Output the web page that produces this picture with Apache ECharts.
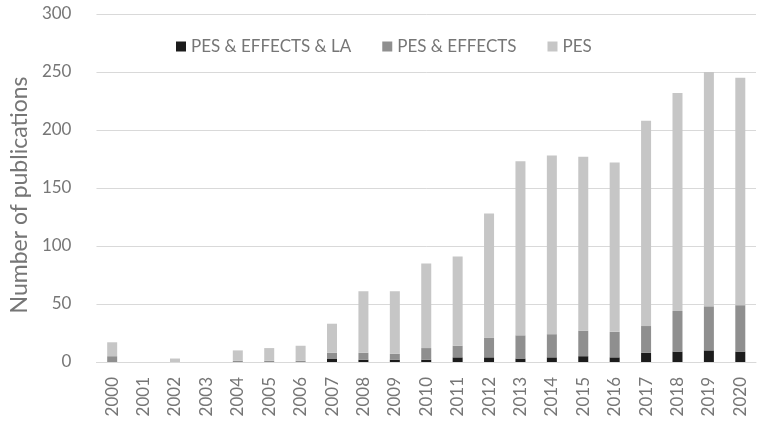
<!DOCTYPE html>
<html>
<head>
<meta charset="utf-8">
<script src="https://cdn.jsdelivr.net/npm/echarts@6/dist/echarts.min.js"></script>
<style>html,body{margin:0;padding:0;background:#fff}#c{width:762px;height:433px}</style>
</head>
<body>
<div id="c"></div>
<script>
var years = ['2000','2001','2002','2003','2004','2005','2006','2007','2008','2009','2010','2011','2012','2013','2014','2015','2016','2017','2018','2019','2020'];
var pesEffectsLA = [0,0,0,0,0,0,0,3,2,2,2,4,4,3,4,5,4,8,9,10,9];
var pesEffects   = [5,0,0,0,1,1,1,5,6,5,10,10,17,20,20,22,22,23,35,38,40];
var pesOnly      = [12,0,3,0,9,11,13,25,53,54,73,77,107,150,154,150,146,177,188,202,196];
var yTicks = [0,50,100,150,200,250,300];

var FONT = 'Lato';
var TXT = '#767676';
var chart = echarts.init(document.getElementById('c'), null, {renderer:'canvas'});
function mk(name, data, color){
  return {name:name, type:'bar', stack:'t', data:data, barWidth:10,
    itemStyle:{color:color}, emphasis:{disabled:true}, silent:true};
}
chart.setOption({
  animation:false,
  grid:{left:83, right:6, top:14, bottom:71, containLabel:false},
  legend:{
    top:33, left:171, itemWidth:10, itemHeight:10, itemGap:31,
    icon:'rect',
    textStyle:{fontFamily:FONT, fontSize:17, color:TXT, padding:[0,0,0,0]},
    data:['PES & EFFECTS & LA','PES & EFFECTS','PES']
  },
  xAxis:{
    type:'category', data:years,
    axisLine:{show:true, lineStyle:{color:'#d9d9d9', width:1}},
    axisTick:{show:false},
    axisLabel:{rotate:90, fontFamily:FONT, fontSize:17, color:TXT, margin:15, interval:0}
  },
  yAxis:{
    type:'value', min:yTicks[0], max:yTicks[yTicks.length-1], interval:50,
    name:'Number of publications', nameLocation:'middle', nameGap:58,
    nameTextStyle:{fontFamily:FONT, fontSize:23, color:TXT, padding:[0,0,0,-14]},
    axisLine:{show:false}, axisTick:{show:false},
    axisLabel:{fontFamily:FONT, fontSize:17, color:TXT, margin:25},
    splitLine:{lineStyle:{color:'#d9d9d9', width:1}}
  },
  series:[
    mk('PES & EFFECTS & LA', pesEffectsLA, '#1c1c1c'),
    mk('PES & EFFECTS', pesEffects, '#8f8f8f'),
    mk('PES', pesOnly, '#c6c6c6')
  ]
});
</script>
</body>
</html>
